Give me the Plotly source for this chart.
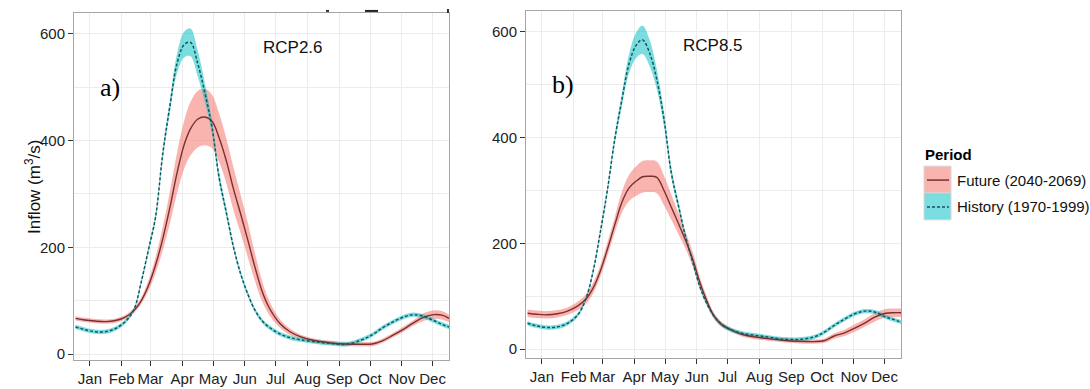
import plotly.graph_objects as go

# ---------------- data (day of year) ----------------
days = [1, 10, 20, 30, 40, 50, 58, 65, 72, 79, 86, 93, 100, 107, 113, 120, 127, 134, 141, 148,
        155, 162, 169, 176, 183, 190, 200, 210, 220, 235, 250, 265, 280, 290, 300, 310, 320, 330,
        340, 350, 358, 365]

# Panel a) RCP2.6
a_hist = [51, 46, 42, 42, 48, 62, 84, 135, 195, 257, 375, 465, 545, 580, 584, 545, 490, 425, 330, 265,
          200, 150, 112, 82, 62, 50, 38, 31, 27, 23, 20, 18.5, 27, 36, 49, 60, 69, 74, 71, 63, 56, 51]
a_hist_hw = [4, 4, 4, 4, 4, 4, 4, 5, 6, 7, 9, 12, 18, 24, 26, 24, 18, 13, 10, 8,
             6, 5, 5, 4, 4, 4, 4, 4, 4, 4, 4, 4, 4, 4, 4, 4, 4, 4, 4, 4, 4, 4]
a_fut = [67, 64, 62, 61, 63, 70, 82, 100, 128, 167, 216, 275, 340, 393, 422, 440, 444, 436, 405, 362,
         309, 262, 213, 162, 117, 86, 58, 42, 33, 25, 21, 19, 18.6, 19, 25, 35, 46, 58, 69, 74, 73, 67]
a_fut_hw = [4, 4, 4, 4, 4, 4, 5, 6, 10, 15, 22, 30, 38, 45, 50, 53, 53, 50, 45, 42,
            40, 36, 32, 26, 19, 13, 8, 6, 4, 4, 4, 4, 4, 4, 4, 4, 5, 5, 7, 8, 8, 7]

# Panel b) RCP8.5
b_hist = [49, 44, 41, 42, 49, 65, 96, 148, 222, 303, 397, 472, 540, 575, 585, 560, 510, 435, 335, 272,
          213, 165, 118, 85, 62, 47, 36, 30, 27, 23, 19, 18.5, 23, 32, 45, 57, 67, 72, 70, 61, 56, 51]
b_hist_hw = [4, 4, 4, 4, 4, 4, 4, 5, 6, 7, 9, 12, 18, 24, 27, 25, 19, 14, 10, 8,
             6, 5, 5, 4, 4, 4, 4, 4, 4, 4, 4, 4, 4, 4, 4, 4, 4, 4, 4, 4, 4, 4]
b_fut = [68, 66, 65, 67, 72, 82, 95, 116, 148, 190, 235, 278, 305, 318, 326, 327, 325, 300, 269, 238,
         206, 170, 126, 90, 62, 47, 36, 28, 24, 20, 17, 15, 14.4, 16, 25, 31, 40, 50, 61, 68, 69, 69]
b_fut_hw = [7, 7, 7, 7, 7, 8, 9, 10, 11, 13, 15, 20, 25, 28, 30, 30, 30, 28, 24, 20,
            16, 14, 10, 8, 6, 5, 4, 4, 4, 4, 4, 4, 4, 4, 5, 6, 7, 7, 8, 8, 8, 8]

month_days = [15, 46, 74, 105, 135, 166, 196, 227, 258, 288, 319, 349]
month_labels = ["Jan", "Feb", "Mar", "Apr", "May", "Jun", "Jul", "Aug", "Sep", "Oct", "Nov", "Dec"]
y_ticks = [0, 200, 400, 600]

panel_titles = ["RCP2.6", "RCP8.5"]
panel_tags = ["a)", "b)"]
legend_title = "Period"
legend_labels = ["Future (2040-2069)", "History (1970-1999)"]
y_title = "Inflow (m<sup>3</sup>/s)"

# ---------------- style ----------------
W, H = 1090, 389
FONT = "Liberation Sans, Arial, sans-serif"
PINK = "rgba(246,118,110,0.55)"
CYAN = "rgba(0,191,196,0.52)"
RED_LINE = "#7b2f2f"
TEAL_LINE = "#17555c"
GRID = "#ececec"
BORDER = "#a6a6a6"


def px(x):
    return x / W


def py(y):
    return 1 - y / H


fig = go.Figure()

panels = [
    dict(hist=a_hist, hist_hw=a_hist_hw, fut=a_fut, fut_hw=a_fut_hw, xa="x", ya="y"),
    dict(hist=b_hist, hist_hw=b_hist_hw, fut=b_fut, fut_hw=b_fut_hw, xa="x2", ya="y2"),
]

for p in panels:
    for mean, hw, fillc in [(p["fut"], p["fut_hw"], PINK), (p["hist"], p["hist_hw"], CYAN)]:
        lo = [m - h for m, h in zip(mean, hw)]
        hi = [m + h for m, h in zip(mean, hw)]
        fig.add_trace(go.Scatter(x=days, y=lo, mode="lines", line=dict(width=0, shape="spline"),
                                 xaxis=p["xa"], yaxis=p["ya"], showlegend=False, hoverinfo="skip"))
        fig.add_trace(go.Scatter(x=days, y=hi, mode="lines", line=dict(width=0, shape="spline"),
                                 fill="tonexty", fillcolor=fillc,
                                 xaxis=p["xa"], yaxis=p["ya"], showlegend=False, hoverinfo="skip"))
    fig.add_trace(go.Scatter(x=days, y=p["fut"], mode="lines",
                             line=dict(color=RED_LINE, width=1.4, shape="spline"),
                             xaxis=p["xa"], yaxis=p["ya"], showlegend=False))
    fig.add_trace(go.Scatter(x=days, y=p["hist"], mode="lines",
                             line=dict(color=TEAL_LINE, width=1.5, shape="spline", dash="3px,2px"),
                             xaxis=p["xa"], yaxis=p["ya"], showlegend=False))

xcommon = dict(tickmode="array", tickvals=month_days, ticktext=month_labels,
               ticks="outside", ticklen=5, tickcolor="#333333", tickwidth=1,
               showgrid=True, gridcolor=GRID, gridwidth=1,
               showline=True, linecolor=BORDER, linewidth=1, mirror=True,
               zeroline=False, tickfont=dict(family=FONT, size=15, color="#222222"),
               range=[-0.5, 365])
ycommon = dict(tickmode="array", tickvals=y_ticks,
               ticks="outside", ticklen=5, tickcolor="#333333", tickwidth=1,
               showgrid=True, gridcolor=GRID, gridwidth=1,
               minor=dict(dtick=100, tick0=0, showgrid=True, gridcolor=GRID, ticklen=0),
               showline=True, linecolor=BORDER, linewidth=1, mirror=True,
               zeroline=False, tickfont=dict(family=FONT, size=15, color="#222222"))

fig.update_layout(
    width=W, height=H, margin=dict(l=0, r=0, t=0, b=0),
    paper_bgcolor="white", plot_bgcolor="white", showlegend=False,
    xaxis=dict(domain=[px(74), px(449)], anchor="y", **xcommon),
    yaxis=dict(domain=[py(362), py(13)], anchor="x", range=[-11.2, 639], **ycommon),
    xaxis2=dict(domain=[px(526), px(901)], anchor="y2", **xcommon),
    yaxis2=dict(domain=[py(360), py(11)], anchor="x2", range=[-16.9, 639.5], **ycommon),
)

ann = []
# panel titles
ann.append(dict(text=panel_titles[0], x=px(261), y=py(36), xref="paper", yref="paper",
                showarrow=False, font=dict(family=FONT, size=17, color="#111111")))
ann.append(dict(text=panel_titles[1], x=px(713), y=py(34), xref="paper", yref="paper",
                showarrow=False, font=dict(family=FONT, size=17, color="#111111")))
# panel tags
ann.append(dict(text=panel_tags[0], x=px(98), y=py(71), xref="paper", yref="paper", xanchor="left",
                showarrow=False, font=dict(family="Liberation Serif, Times New Roman, serif", size=26, color="#000000")))
ann.append(dict(text=panel_tags[1], x=px(550), y=py(68), xref="paper", yref="paper", xanchor="left",
                showarrow=False, font=dict(family="Liberation Serif, Times New Roman, serif", size=26, color="#000000")))
# y title
ann.append(dict(text=y_title, x=px(20), y=py(188), xref="paper", yref="paper", textangle=-90,
                showarrow=False, font=dict(family=FONT, size=17, color="#111111")))
# legend
ann.append(dict(text="<b>" + legend_title + "</b>", x=px(923), y=py(155), xref="paper", yref="paper",
                xanchor="left", showarrow=False, font=dict(family=FONT, size=15, color="#000000")))
ann.append(dict(text=legend_labels[0], x=px(955), y=py(181), xref="paper", yref="paper",
                xanchor="left", showarrow=False, font=dict(family=FONT, size=15, color="#111111")))
ann.append(dict(text=legend_labels[1], x=px(955), y=py(208), xref="paper", yref="paper",
                xanchor="left", showarrow=False, font=dict(family=FONT, size=15, color="#111111")))
fig.update_layout(annotations=ann)

shapes = [
    dict(type="rect", xref="paper", yref="paper", x0=px(924), x1=px(951), y0=py(194), y1=py(167),
         fillcolor=PINK, line=dict(color="#d8d8d8", width=1)),
    dict(type="rect", xref="paper", yref="paper", x0=px(924), x1=px(951), y0=py(221), y1=py(194),
         fillcolor=CYAN, line=dict(color="#d8d8d8", width=1)),
    dict(type="line", xref="paper", yref="paper", x0=px(927), x1=px(949), y0=py(181), y1=py(181),
         line=dict(color=RED_LINE, width=1.5)),
    dict(type="line", xref="paper", yref="paper", x0=px(927), x1=px(949), y0=py(208), y1=py(208),
         line=dict(color=TEAL_LINE, width=1.5, dash="3px,2px")),
    # cropped glyph remnants at the top edge of panel a
    dict(type="line", xref="paper", yref="paper", x0=px(326), x1=px(329), y0=py(11), y1=py(11),
         line=dict(color="#333333", width=2)),
    dict(type="line", xref="paper", yref="paper", x0=px(365), x1=px(378), y0=py(11), y1=py(11),
         line=dict(color="#222222", width=2)),
    dict(type="line", xref="paper", yref="paper", x0=px(448), x1=px(448), y0=py(9), y1=py(13),
         line=dict(color="#333333", width=2)),
]
fig.update_layout(shapes=shapes)

fig.write_html("out.html")
